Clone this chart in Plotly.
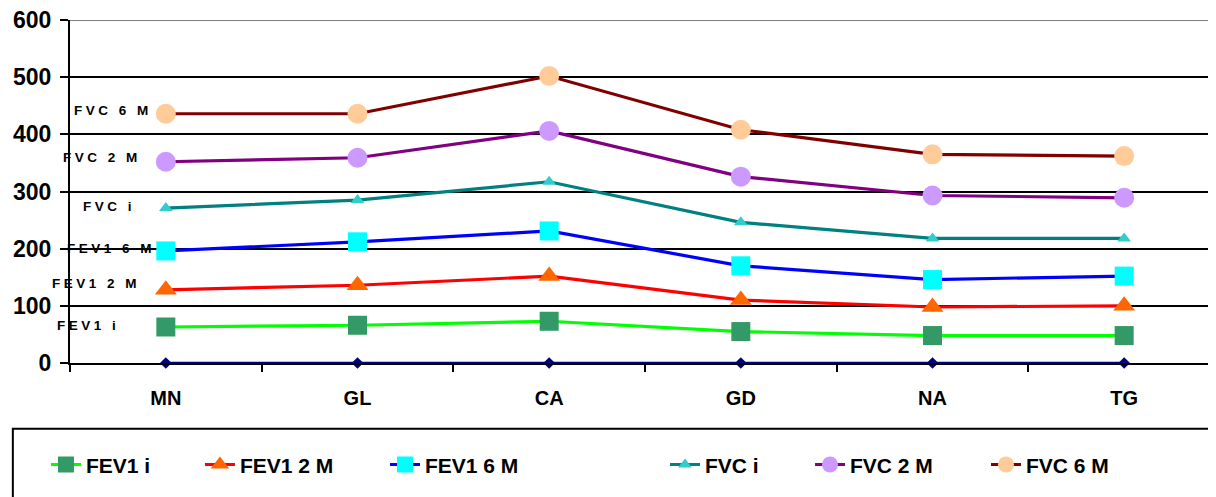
import plotly.graph_objects as go

categories = ["MN", "GL", "CA", "GD", "NA", "TG"]
baseline = [0, 0, 0, 0, 0, 0]
fev1_i = [63, 66, 73, 55, 48, 48]
fev1_2m = [128, 136, 152, 110, 98, 100]
fev1_6m = [196, 212, 231, 170, 146, 152]
fvc_i = [271, 285, 317, 246, 218, 218]
fvc_2m = [352, 359, 406, 326, 293, 289]
fvc_6m = [436, 436, 502, 408, 365, 362]
y_ticks = [0, 100, 200, 300, 400, 500, 600]

# name, values, line colour, symbol, marker colour, marker size, label x/y shift, legend x
series = [
    ("FEV1 i", fev1_i, "#00FF00", "square", "#339966", 19, -45, 1, -0.0209),
    ("FEV1 2 M", fev1_2m, "#FF0000", "triangle-up", "#FF6600", 19, -24, 6, 0.1130),
    ("FEV1 6 M", fev1_6m, "#0000FF", "square", "#00FFFF", 19, -9, 2, 0.2739),
    ("FVC i", fvc_i, "#008080", "triangle-up", "#33CCCC", 12, -29, 2, 0.5174),
    ("FVC 2 M", fvc_2m, "#800080", "circle", "#CC99FF", 20, -23, 4, 0.6435),
    ("FVC 6 M", fvc_6m, "#800000", "circle", "#FFCC99", 20, -12, 3, 0.7965),
]

FONT = "Liberation Sans, Arial, sans-serif"

fig = go.Figure()
fig.add_trace(go.Scatter(
    x=categories, y=baseline, mode="lines+markers", showlegend=False,
    line=dict(color="#000080", width=2.5),
    marker=dict(symbol="diamond", size=9, color="#000080"),
    cliponaxis=False,
))
annotations = []
legends = {}
for i, (name, vals, lc, sym, mc, ms, dx, dy, lx) in enumerate(series):
    lg = "legend" if i == 0 else f"legend{i + 1}"
    fig.add_trace(go.Scatter(
        x=categories, y=vals, name=name, mode="lines+markers",
        line=dict(color=lc, width=3.2),
        marker=dict(symbol=sym, size=ms, color=mc, line=dict(width=0)),
        cliponaxis=False, legend=lg,
    ))
    legends[lg] = dict(
        orientation="h", x=lx, xanchor="left", y=-0.297, yanchor="middle",
        font=dict(family=FONT, size=21, color="black", weight="bold"),
        bgcolor="rgba(0,0,0,0)", borderwidth=0,
    )
    annotations.append(dict(
        x=categories[0], y=vals[0], xref="x", yref="y",
        text='<span style="letter-spacing:3.5px">' + name + "</span>",
        showarrow=False, xanchor="right", yanchor="middle",
        xshift=dx, yshift=dy,
        font=dict(family=FONT, size=13.5, color="black", weight="bold"),
    ))

fig.update_layout(
    width=1216, height=497,
    margin=dict(l=62, r=4, t=12, b=142),
    paper_bgcolor="white", plot_bgcolor="white",
    font=dict(family=FONT, color="black"),
    showlegend=True,
    xaxis=dict(
        type="category", range=[-0.5, 5.5],
        showgrid=False, showline=True, linecolor="black", linewidth=2,
        ticks="outside", tickson="boundaries", ticklen=7, tickwidth=2, tickcolor="black",
        ticklabelstandoff=16,
        tickfont=dict(family=FONT, size=20, color="black", weight="bold"),
        zeroline=False, automargin=False,
    ),
    yaxis=dict(
        range=[0, 600], tickvals=y_ticks,
        showgrid=True, gridcolor="black", gridwidth=1.5,
        showline=True, linecolor="black", linewidth=2,
        ticks="outside", ticklen=8, tickwidth=2, tickcolor="black",
        ticklabelstandoff=4, ticklabeloverflow="allow",
        tickfont=dict(family=FONT, size=23, color="black", weight="bold"),
        zeroline=False, automargin=False,
    ),
    annotations=annotations,
    shapes=[
        dict(type="line", xref="paper", yref="y", x0=0, x1=1, y0=600, y1=600,
             line=dict(color="#808080", width=2)),
        dict(type="rect", xref="paper", yref="paper", x0=-0.0497, x1=1.02, y0=-0.5, y1=-0.192,
             line=dict(color="black", width=2), fillcolor="rgba(0,0,0,0)"),
    ],
    **legends,
)

fig.write_html("out.html")
